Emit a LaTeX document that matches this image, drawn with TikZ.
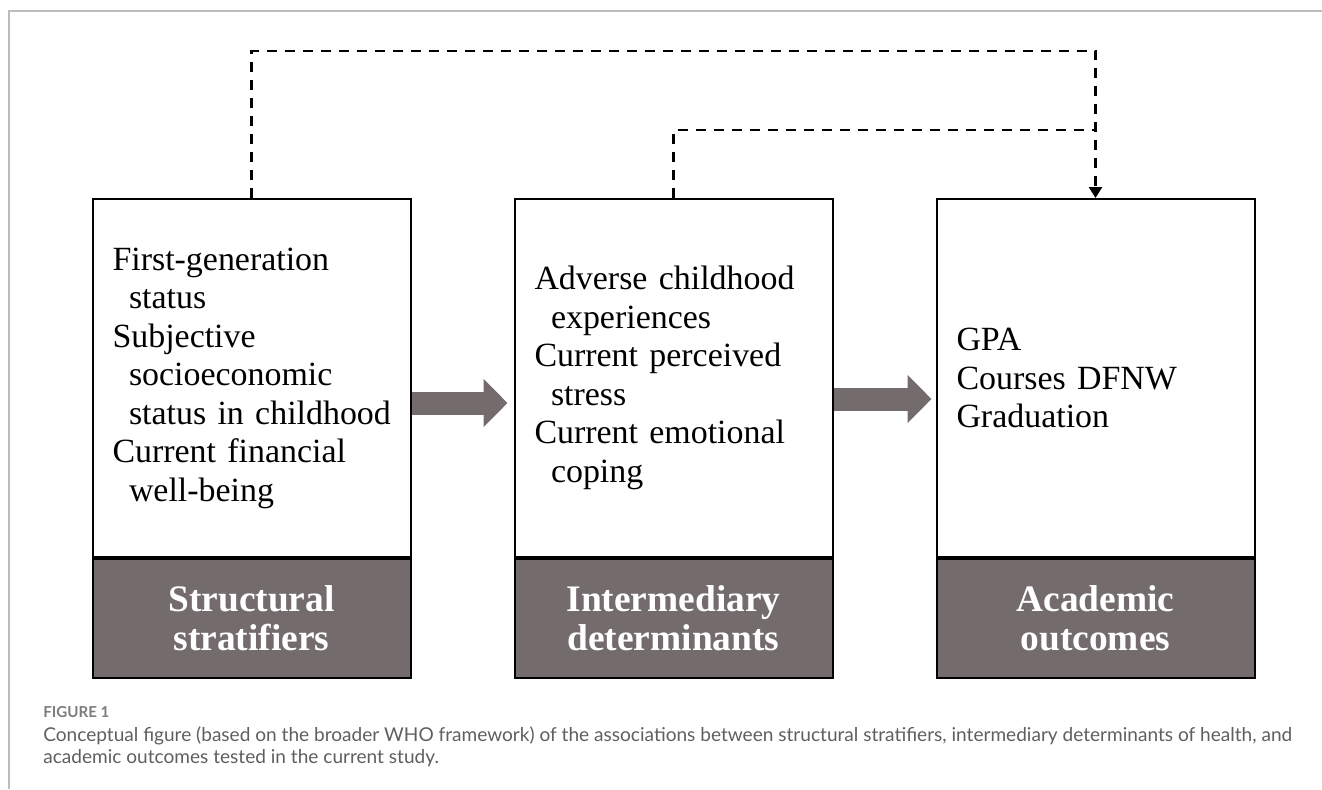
\documentclass[tikz,border=0pt]{standalone}
\usepackage{fontspec}
\setmainfont{Liberation Serif}
\newfontfamily\capfont{Lato}
\usetikzlibrary{arrows.meta,positioning}
\definecolor{lblgray}{RGB}{116,108,108}
\definecolor{framegray}{RGB}{188,188,188}
\definecolor{captext}{RGB}{95,95,95}
\definecolor{capnum}{RGB}{125,125,125}
\newcommand{\indln}{\hspace*{0.33cm}}
\newcommand{\nohyph}{\hyphenpenalty=10000\relax\hbadness=10000\relax}
\tikzset{
  %% white box listing the measures
  varbox/.style={rectangle,draw=black,line width=0.04cm,fill=white,
    minimum width=6.36cm,minimum height=7.16cm,text width=5.56cm,
    inner xsep=0.4cm,align=left,
    font=\fontsize{19.3}{21.9}\selectfont\nohyph},
  %% grey title bar under each box
  ttlbar/.style={rectangle,draw=black,line width=0.04cm,fill=lblgray,
    minimum width=6.36cm,minimum height=2.38cm,align=center,text=white,
    font=\fontsize{21.3}{22.1}\selectfont\bfseries},
  %% arrows
  fatarr/.style={draw=lblgray,line width=0.46cm,
    -{Triangle[length=0.48cm,width=0.94cm]}},
  dsharr/.style={line width=0.05cm,dash pattern=on 0.2cm off 0.16cm},
  %% caption
  capnum/.style={font=\capfont\bfseries\fontsize{8.6}{10}\selectfont,text=capnum,
    inner sep=0pt},
  captxt/.style={font=\capfont\fontsize{10.85}{12.6}\selectfont,text=captext,
    align=left,inner sep=0pt},
}
\begin{document}
\begin{tikzpicture}
  \useasboundingbox (0,0) rectangle (26.44,-15.78);
  \draw[framegray,line width=0.04cm] (0.18,-15.78) -- (0.18,-0.22) -- (26.44,-0.22);

  \node[varbox] (struct) at (5.03,-7.56)
    {First-generation\\\indln status\\Subjective\\\indln socioeconomic\\
     \indln status~in~childhood\\Current financial\\\indln well-being};
  \node[varbox,right=2.04cm of struct] (inter)
    {Adverse childhood\\\indln experiences\\Current perceived\\\indln stress\\
     Current emotional\\\indln coping};
  \node[varbox,right=2.04cm of inter] (acad)
    {GPA\\Courses DFNW\\Graduation};

  \node[ttlbar,below=0cm of struct] (structlbl) {Structural\\stratifiers};
  \node[ttlbar,below=0cm of inter]  (interlbl)  {Intermediary\\determinants};
  \node[ttlbar,below=0cm of acad]   (acadlbl)   {Academic\\outcomes};

  \draw[fatarr] ([yshift=-0.5cm]struct.east) -- ([yshift=-0.5cm,xshift=-0.12cm]inter.west);
  \draw[fatarr] ([yshift=-0.42cm]inter.east) -- ([yshift=-0.42cm,xshift=-0.08cm]acad.west);

  \coordinate (join) at ([yshift=1.36cm]acad.north);
  \draw[dsharr,-{Triangle[length=0.22cm,width=0.26cm]}]
    (struct.north) -- ++(0,2.94) -| (acad.north);
  \draw[dsharr] (inter.north) |- (join);

  \node[capnum,anchor=west] (fignum) at (0.86,-14.24) {FIGURE 1};
  \node[captxt,anchor=north west] (cap) at (0.86,-14.52)
    {Conceptual figure (based on the broader WHO framework) of the associations between structural stratifiers, intermediary determinants of health, and\\
     academic outcomes tested in the current study.};
\end{tikzpicture}
\end{document}
